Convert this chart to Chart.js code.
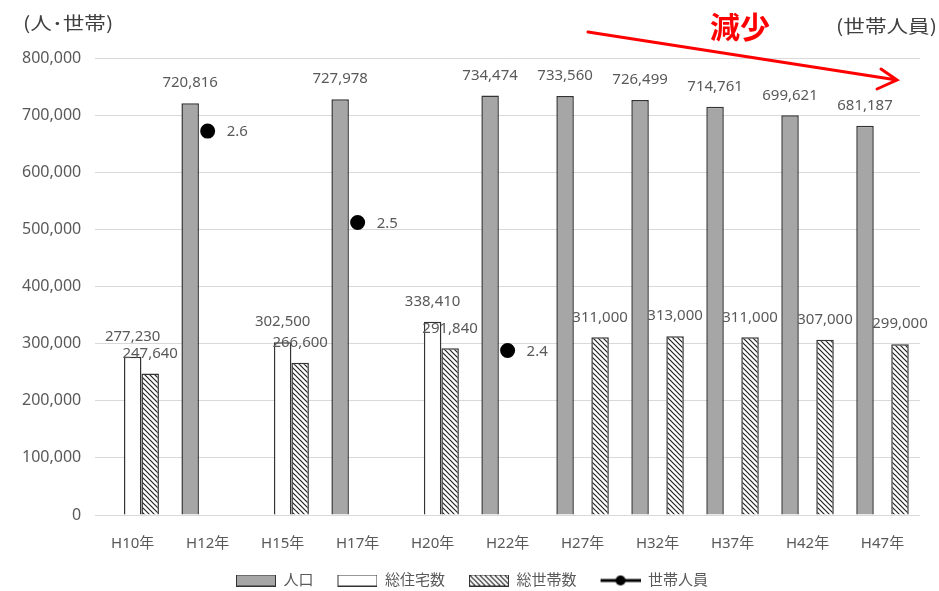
<!DOCTYPE html>
<html>
<head>
<meta charset="utf-8">
<script src="https://cdn.jsdelivr.net/npm/chart.js@4/dist/chart.umd.min.js"></script>
<style>
  html, body { margin: 0; padding: 0; background: #fff; }
  #wrap { width: 939px; height: 591px; position: relative; }
</style>
</head>
<body>
<div id="wrap"><canvas id="grafico"></canvas></div>
<script>
// 年次
const nendo = ['H10年', 'H12年', 'H15年', 'H17年', 'H20年', 'H22年', 'H27年', 'H32年', 'H37年', 'H42年', 'H47年'];
// 人口
const jinko = [null, 720816, null, 727978, null, 734474, 733560, 726499, 714761, 699621, 681187];
// 総住宅数
const juutaku = [277230, null, 302500, null, 338410, null, null, null, null, null, null];
// 総世帯数
const setai = [247640, null, 266600, null, 291840, null, 311000, 313000, 311000, 307000, 299000];
// 世帯人員
const jinin = [null, 2.62, null, 2.52, null, 2.38, null, null, null, null, null];
// 左軸の目盛り
const ejeIzq = { min: 0, max: 800000, step: 100000 };
// 右軸の目盛り
const ejeDer = { min: 2.2, max: 2.7 };

const FUENTE = '"Noto Sans", "Noto Sans CJK JP", sans-serif';
const GRIS_TXT = '#595959';
const BORDE = '#333333';

function crearRayado() {
    const c = document.createElement('canvas');
    c.width = 5; c.height = 5;
    const g = c.getContext('2d');
    g.fillStyle = '#fff';
    g.fillRect(0, 0, 5, 5);
    g.strokeStyle = '#222';
    g.lineWidth = 1.2;
    g.beginPath();
    g.moveTo(0, 0); g.lineTo(5, 5);
    g.moveTo(-1, 4); g.lineTo(1, 6);
    g.moveTo(4, -1); g.lineTo(6, 1);
    g.stroke();
    return c;
}

const ctxBase = document.getElementById('grafico').getContext('2d');
const rayado = ctxBase.createPattern(crearRayado(), 'repeat');

// 凡例用のアイコン（左側に余白をとる）
const MARGEN_ICONO = 16;

function iconoBarra(relleno) {
    const c = document.createElement('canvas');
    c.width = 40 + MARGEN_ICONO; c.height = 12;
    const g = c.getContext('2d');
    g.translate(MARGEN_ICONO, 0);
    g.fillStyle = relleno === 'rayado' ? g.createPattern(crearRayado(), 'repeat') : relleno;
    g.fillRect(0.5, 0.5, 39, 11);
    g.strokeStyle = BORDE;
    g.lineWidth = 1;
    g.strokeRect(0.5, 0.5, 39, 11);
    return c;
}

function iconoLinea() {
    const c = document.createElement('canvas');
    c.width = 40 + MARGEN_ICONO; c.height = 12;
    const g = c.getContext('2d');
    g.translate(MARGEN_ICONO, 0);
    g.strokeStyle = '#000';
    g.lineWidth = 3;
    g.beginPath();
    g.moveTo(0, 6); g.lineTo(40, 6);
    g.stroke();
    g.fillStyle = '#000';
    g.beginPath();
    g.arc(20, 6, 5, 0, Math.PI * 2);
    g.fill();
    return c;
}

const iconos = [iconoBarra('#a6a6a6'), iconoBarra('#ffffff'), iconoBarra('rayado'), iconoLinea()];

// 値ラベル
const etiquetas = {
    id: 'etiquetas',
    afterDatasetsDraw(chart) {
        const ctx = chart.ctx;
        ctx.save();
        ctx.font = '15px ' + FUENTE;
        ctx.fillStyle = GRIS_TXT;
        ctx.textBaseline = 'middle';
        chart.data.datasets.forEach((ds, i) => {
            const meta = chart.getDatasetMeta(i);
            meta.data.forEach((el, j) => {
                const v = ds.data[j];
                if (v === null || v === undefined) return;
                if (ds.type === 'line') {
                    ctx.textAlign = 'left';
                    ctx.fillText(v.toFixed(1), el.x + 19, el.y + 1);
                } else {
                    ctx.textAlign = 'center';
                    ctx.fillText(v.toLocaleString('en-US'), el.x, el.y - 20);
                }
            });
        });
        ctx.restore();
    }
};

// 単位と矢印
function textoAncho(ctx, txt, x, y) {
    ctx.save();
    ctx.translate(x, y);
    ctx.scale(1.2, 1);
    ctx.fillText(txt, 0, 0);
    ctx.restore();
}

const anotaciones = {
    id: 'anotaciones',
    afterDraw(chart) {
        const ctx = chart.ctx;
        ctx.save();
        ctx.fillStyle = '#404040';
        ctx.font = '18px "Noto Sans CJK JP", sans-serif';
        ctx.textBaseline = 'middle';
        ctx.textAlign = 'left';
        textoAncho(ctx, '(人･世帯)', 23, 23);
        textoAncho(ctx, '(世帯人員)', 836, 26);

        ctx.fillStyle = '#ff0000';
        ctx.font = 'bold 30px "Noto Sans CJK JP", sans-serif';
        ctx.fillText('減少', 710, 27);

        ctx.strokeStyle = '#ff0000';
        ctx.lineWidth = 3;
        ctx.lineCap = 'round';
        ctx.beginPath();
        ctx.moveTo(588, 32);
        ctx.lineTo(897, 80);
        ctx.moveTo(881, 69);
        ctx.lineTo(897, 80);
        ctx.lineTo(877, 89);
        ctx.stroke();
        ctx.restore();
    }
};

new Chart(ctxBase, {
    data: {
        labels: nendo,
        datasets: [
            {
                type: 'bar',
                label: '人口',
                data: jinko,
                backgroundColor: '#a6a6a6',
                borderColor: BORDE,
                borderWidth: 1.5,
                yAxisID: 'y'
            },
            {
                type: 'bar',
                label: '総住宅数',
                data: juutaku,
                backgroundColor: '#ffffff',
                borderColor: BORDE,
                borderWidth: 1.5,
                yAxisID: 'y'
            },
            {
                type: 'bar',
                label: '総世帯数',
                data: setai,
                backgroundColor: rayado,
                borderColor: BORDE,
                borderWidth: 1.5,
                yAxisID: 'y'
            },
            {
                type: 'line',
                label: '世帯人員',
                data: jinin,
                borderColor: '#000',
                backgroundColor: '#000',
                borderWidth: 3,
                pointRadius: 6,
                pointHoverRadius: 6,
                spanGaps: false,
                yAxisID: 'y1'
            }
        ]
    },
    options: {
        responsive: true,
        maintainAspectRatio: false,
        animation: false,
        layout: { padding: { top: 58, left: 8, right: 19, bottom: -7 } },
        datasets: {
            bar: { categoryPercentage: 0.7, barPercentage: 1 }
        },
        scales: {
            x: {
                grid: { display: false },
                border: { display: false },
                ticks: { color: GRIS_TXT, font: { family: FUENTE, size: 15 }, padding: 12 }
            },
            y: {
                min: ejeIzq.min,
                max: ejeIzq.max,
                border: { display: false },
                grid: { color: '#d9d9d9', drawTicks: false },
                ticks: {
                    stepSize: ejeIzq.step,
                    color: GRIS_TXT,
                    padding: 14,
                    font: { family: FUENTE, size: 16 },
                    callback: v => v.toLocaleString('en-US')
                }
            },
            y1: {
                position: 'right',
                display: false,
                min: ejeDer.min,
                max: ejeDer.max
            }
        },
        plugins: {
            tooltip: { enabled: false },
            legend: {
                position: 'bottom',
                labels: {
                    color: GRIS_TXT,
                    font: { family: FUENTE, size: 15 },
                    usePointStyle: true,
                    pointStyleWidth: 40 + MARGEN_ICONO,
                    padding: 8,
                    generateLabels(chart) {
                        const items = Chart.defaults.plugins.legend.labels.generateLabels(chart);
                        items.forEach((it, i) => { it.pointStyle = iconos[i]; });
                        return items;
                    }
                }
            }
        }
    },
    plugins: [etiquetas, anotaciones]
});
</script>
</body>
</html>
